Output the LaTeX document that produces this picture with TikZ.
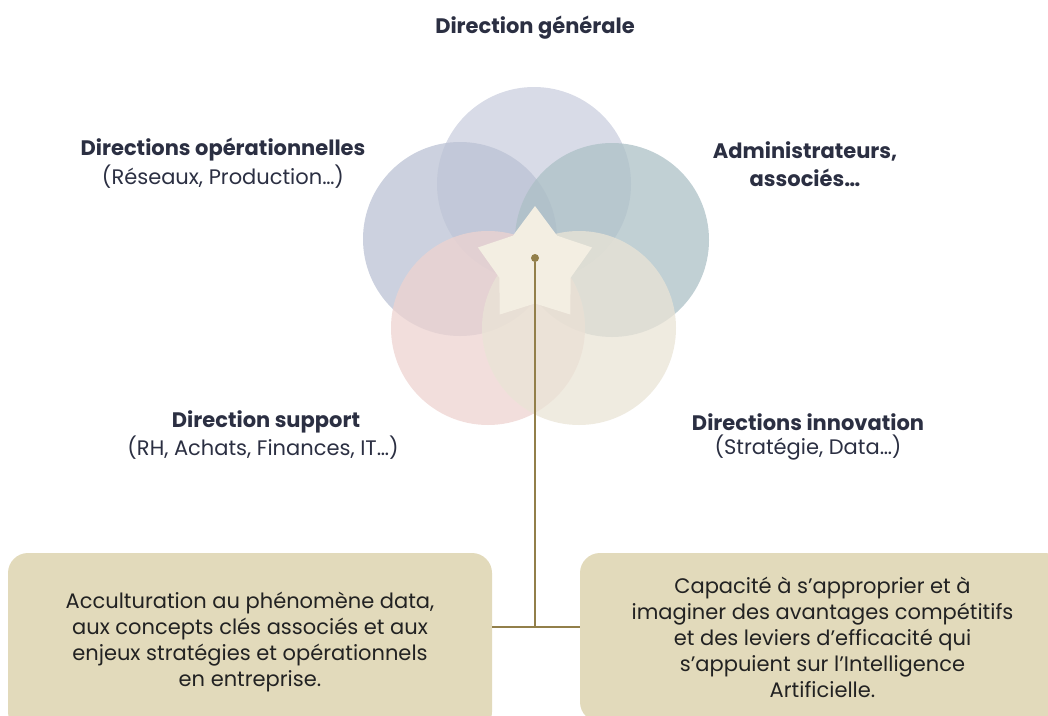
\documentclass[tikz,border=0pt]{standalone}
\usepackage{fontspec}
\setmainfont{Poppins}
\usetikzlibrary{shapes.geometric}
\definecolor{cTop}{HTML}{CBCFDF}
\definecolor{cLeft}{HTML}{BBC2D4}
\definecolor{cRight}{HTML}{ACC0C6}
\definecolor{cBL}{HTML}{EED3D0}
\definecolor{cBR}{HTML}{EAE4D6}
\definecolor{cStar}{HTML}{F3EEE2}
\definecolor{cGold}{HTML}{927F4A}
\definecolor{cBox}{HTML}{E2DABB}
\definecolor{cLabel}{HTML}{2B2F42}
\definecolor{cText}{HTML}{222222}
\tikzset{
  venn/.style={circle, minimum size=194pt, inner sep=0pt, fill opacity=0.75},
  head/.style={font=\fontsize{21}{28}\selectfont\bfseries, text=cLabel, align=center, inner sep=0pt},
  sub/.style={font=\fontsize{21}{28}\selectfont, text=cLabel, align=center, inner sep=0pt},
  infobox/.style={rectangle, rounded corners=20pt, fill=cBox, inner sep=0pt,
    font=\fontsize{21}{26}\selectfont, text=cText, align=center},
  link/.style={draw=cGold, line width=1.6pt},
}
\begin{document}
\begin{tikzpicture}[x=1pt,y=-1pt]
\useasboundingbox (0,0) rectangle (1048,715);
\clip (0,0) rectangle (1048,715);
% circles
\node[venn, fill=cTop]   (dg)  at (534,184) {};
\node[venn, fill=cLeft]  (dop) at (460,239) {};
\node[venn, fill=cRight] (adm) at (612,240) {};
\node[venn, fill=cBL]    (sup) at (488,328) {};
\node[venn, fill=cBR]    (inn) at (579,328) {};
% star
\node[star, star points=5, star point ratio=1.6, minimum size=120pt, inner sep=0pt, fill=cStar] (star) at (535,266) {};
\node[circle, fill=cGold, minimum size=8pt, inner sep=0pt] (dot) at (535,258) {};
% labels
\node[head] (ldg) at (535,28) {Direction générale};
\node[head] (ldop) at (223,150) {Directions opérationnelles};
\node[sub]  (ldops) at (223,177) {(Réseaux, Production…)};
\node[head] (ladm) at (805,164) {Administrateurs,\\associés…};
\node[head] (lsup) at (266,422) {Direction support};
\node[sub]  (lsups) at (263,448) {(RH, Achats, Finances, IT…)};
\node[head] (linn) at (808,422) {Directions innovation};
\node[sub]  (linns) at (808,448) {(Stratégie, Data…)};
% boxes
\node[infobox, minimum width=484pt, minimum height=179pt] (lbox) at (250,642.5)
  {Acculturation au phénomène data,\\aux concepts clés associés et aux\\enjeux stratégies et opérationnels\\en entreprise.};
\node[infobox, minimum width=485pt, minimum height=169pt] (rbox) at (822.5,637.5)
  {Capacité à s’approprier et à\\imaginer des avantages compétitifs\\et des leviers d’efficacité qui\\s’appuient sur l’Intelligence\\Artificielle.};
% connectors
\coordinate (junc) at (535,627);
\draw[link] (dot) -- (junc);
\draw[link] (lbox.east |- junc) -- (rbox.west |- junc);
\end{tikzpicture}
\end{document}
